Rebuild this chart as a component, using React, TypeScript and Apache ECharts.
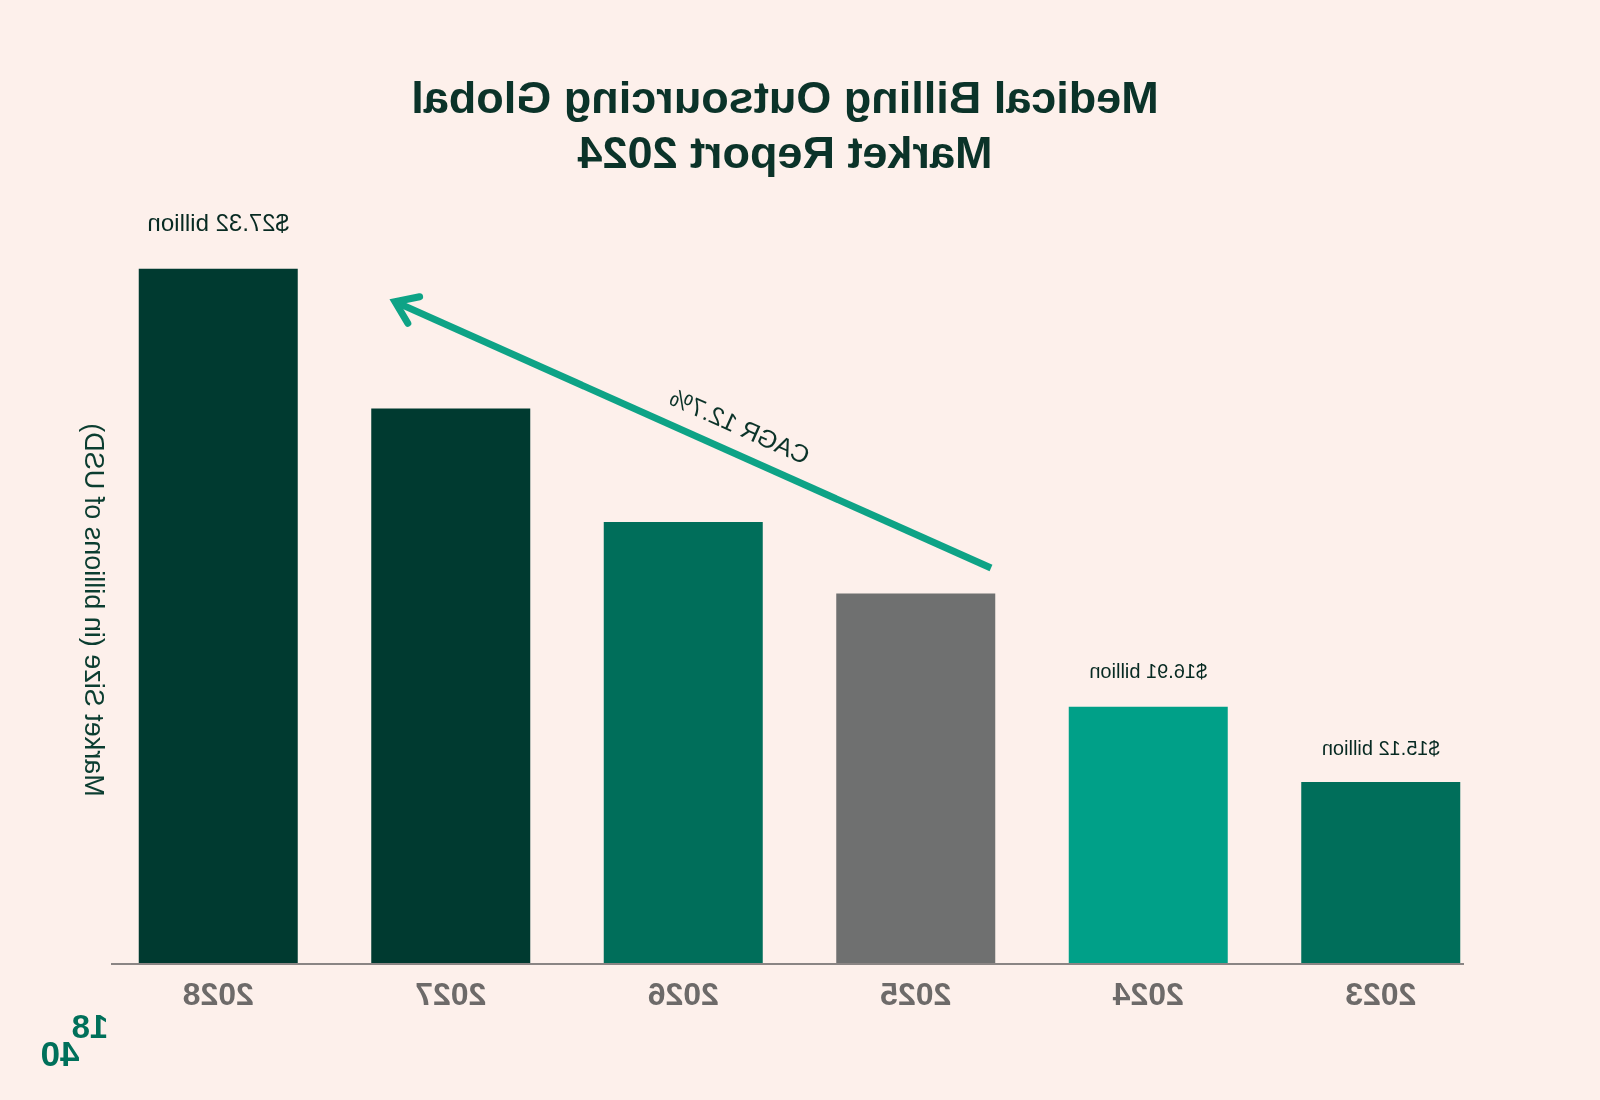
import React, { useEffect, useRef } from "react";
import * as echarts from "echarts";

const years = ["2023", "2024", "2025", "2026", "2027", "2028"];
const marketSize = [15.12, 16.91, 19.6, 21.3, 24.0, 27.32];
const labelled = [true, true, false, false, false, true];
const barColors = ["#006e5a", "#00a088", "#6f7070", "#006e5a", "#003a30", "#003a30"];
const labelSizes = [20, 20, 20, 20, 20, 24];
const labelGaps = [24, 26, 26, 26, 26, 34];
const titleText = "Medical Billing Outsourcing Global\nMarket Report 2024";
const yAxisTitle = "Market Size (in billions of USD)";
const cagrText = "CAGR 12.7%";

const FONT = "'Liberation Sans', Arial, sans-serif";

export default function App() {
  const ref = useRef<HTMLDivElement>(null);
  useEffect(() => {
    if (!ref.current) return;
    const chart = echarts.init(ref.current, undefined, { renderer: "svg" });
    const angle = Math.atan2(568 - 301.7, 1205 - 609);
    chart.setOption({
      animation: false,
      backgroundColor: "#fdf0eb",
      title: {
        text: titleText,
        left: 815,
        top: 70,
        textAlign: "center",
        padding: 0,
        textStyle: {
          fontFamily: FONT,
          fontSize: 45,
          fontWeight: "bold",
          lineHeight: 55,
          color: "#0b3329",
        },
      },
      grid: { left: 103, right: 102, top: 156, bottom: 137 },
      xAxis: {
        type: "category",
        data: years,
        axisLine: { show: false },
        axisTick: { show: false },
        axisLabel: {
          margin: 15,
          fontFamily: FONT,
          fontSize: 32,
          fontWeight: "bold",
          color: "#6d6a69",
        },
      },
      yAxis: {
        type: "value",
        min: 10.82,
        max: 30,
        show: false,
      },
      series: [
        {
          type: "bar",
          barWidth: 159,
          data: marketSize.map((v, i) => ({
            value: v,
            itemStyle: { color: barColors[i] },
            label: {
              show: labelled[i],
              position: "top",
              distance: labelGaps[i],
              formatter: () => `$${v.toFixed(2)} billion`,
              fontFamily: FONT,
              fontSize: labelSizes[i],
              color: "#072a22",
            },
          })),
        },
      ],
      graphic: [
        {
          type: "line",
          shape: { x1: 136, y1: 964, x2: 1489, y2: 964 },
          style: { stroke: "#8a8584", lineWidth: 2 },
        },
        {
          type: "text",
          x: 1506,
          y: 610,
          rotation: Math.PI / 2,
          style: {
            text: yAxisTitle,
            fontFamily: FONT,
            fontSize: 27,
            fill: "#0b3d30",
            align: "center",
            verticalAlign: "middle",
          },
        },
        {
          type: "line",
          shape: { x1: 609, y1: 568, x2: 1203, y2: 302.6 },
          style: { stroke: "#0ea386", lineWidth: 7 },
        },
        {
          type: "polyline",
          shape: { points: [[1180.4, 296.7], [1205, 301.7], [1192.2, 323.3]] },
          style: { stroke: "#0ea386", lineWidth: 7, fill: "none", lineJoin: "miter", lineCap: "round" },
        },
        {
          type: "text",
          x: 860,
          y: 426,
          rotation: angle,
          style: {
            text: cagrText,
            fontFamily: FONT,
            fontSize: 25,
            fill: "#0b3329",
            align: "center",
            verticalAlign: "middle",
          },
        },
        {
          type: "text",
          x: 1510,
          y: 1026,
          style: {
            text: "18",
            fontFamily: FONT,
            fontSize: 33,
            lineHeight: 24,
            fontWeight: "bold",
            fill: "#00705a",
            align: "center",
            verticalAlign: "middle",
          },
        },
        {
          type: "text",
          x: 1540,
          y: 1053,
          style: {
            text: "40",
            fontFamily: FONT,
            fontSize: 35,
            lineHeight: 24,
            fontWeight: "bold",
            fill: "#00705a",
            align: "center",
            verticalAlign: "middle",
          },
        },
      ],
    });
    return () => chart.dispose();
  }, []);
  return (
    <div
      ref={ref}
      style={{
        position: "fixed",
        left: 0,
        top: 0,
        width: 1600,
        height: 1100,
        transform: "scaleX(-1)",
      }}
    />
  );
}
